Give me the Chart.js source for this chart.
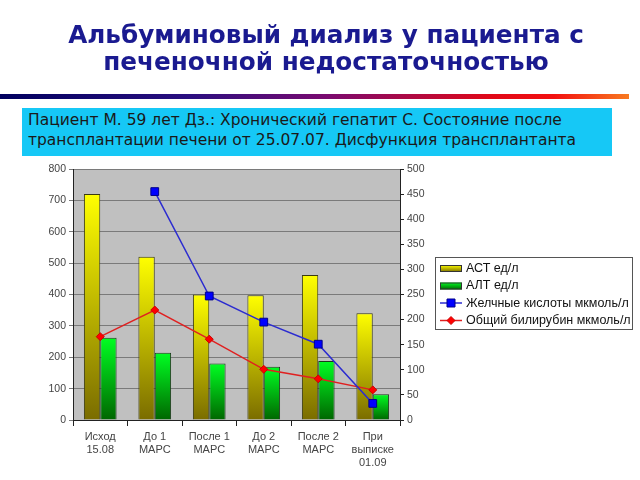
<!DOCTYPE html>
<html>
<head>
<meta charset="utf-8">
<script src="https://cdn.jsdelivr.net/npm/chart.js@4"></script>
<style>
  html, body { margin: 0; padding: 0; background: #fff; }
  #wrap { position: relative; width: 640px; height: 480px; overflow: hidden; }
  #myChart { position: absolute; left: 0; top: 0; }
  .title {
    position: absolute; left: 0; top: 21px; width: 652px; text-align: center;
    font: bold 24.7px "DejaVu Sans", sans-serif; color: #1a1a90; line-height: 27px;
  }
  .rule {
    position: absolute; left: 0; top: 94px; width: 629px; height: 5px;
    background: linear-gradient(to right, #00005e 0%, #2a0f80 30%, #7a0a70 52%, #e00818 78%, #f31010 88%, #f87a20 100%);
  }
  .box {
    position: absolute; left: 22px; top: 108px; width: 584px; height: 46px;
    background: #16c8f6; padding: 2px 0 0 6px; box-sizing: content-box;
    font: 15.5px "DejaVu Sans", sans-serif; color: #1a1a1a; line-height: 20px;
    white-space: nowrap;
  }
</style>
</head>
<body>
<div id="wrap">
  <canvas id="myChart" width="640" height="480"></canvas>
  <div class="title">Альбуминовый диализ у пациента с<br>печеночной недостаточностью</div>
  <div class="rule"></div>
  <div class="box">Пациент М. 59 лет Дз.: Хронический гепатит С. Состояние после<br>трансплантации печени от 25.07.07. Дисфункция трансплантанта</div>
</div>
<script>
'use-strict';

const categories = [['Исход', '15.08'], ['До 1', 'МАРС'], ['После 1', 'МАРС'], ['До 2', 'МАРС'], ['После 2', 'МАРС'], ['При', 'выписке', '01.09']];
const astValues = [720, 520, 400, 398, 462, 340];
const altValues = [262, 214, 180, 170, 188, 82];
const bileAcids = [null, 455, 247, 195, 151, 33];
const bilirubin = [166, 219, 161, 101, 82, 60];
const leftTicks = { min: 0, max: 800, step: 100 };
const rightTicks = { min: 0, max: 500, step: 50 };

const ctx = document.getElementById('myChart').getContext('2d');

// per-bar vertical gradient, like the Excel fill
function barFill(top, bottom) {
  return (c) => {
    const chart = c.chart;
    const y = chart.scales && chart.scales.y;
    if (!chart.chartArea || !y || c.raw == null) return top;
    const yTop = y.getPixelForValue(c.raw);
    const yBase = y.getPixelForValue(0);
    const g = chart.ctx.createLinearGradient(0, yTop, 0, yBase);
    g.addColorStop(0, top);
    g.addColorStop(1, bottom);
    return g;
  };
}

const plotBackground = {
  id: 'plotBackground',
  beforeDraw: (chart) => {
    const { ctx, chartArea: a } = chart;
    ctx.save();
    ctx.fillStyle = '#c0c0c0';
    ctx.fillRect(a.left, a.top, a.right - a.left, a.bottom - a.top);
    ctx.restore();
  }
};

// legend drawn by hand so it sits where the original one is
const sideLegend = {
  id: 'sideLegend',
  afterDraw: (chart) => {
    const { ctx } = chart;
    const x = 435, y = 257, w = 197, h = 72;
    ctx.save();
    ctx.fillStyle = '#fff';
    ctx.fillRect(x, y, w, h);
    ctx.strokeStyle = '#555';
    ctx.lineWidth = 1;
    ctx.strokeRect(x + 0.5, y + 0.5, w, h);
    ctx.font = '12.5px "Liberation Sans", Arial, sans-serif';
    ctx.textBaseline = 'middle';
    chart.data.datasets.forEach((ds, i) => {
      const cy = y + 11 + i * 17.5;
      if (ds.type === 'line') {
        ctx.strokeStyle = ds.borderColor;
        ctx.lineWidth = 1.5;
        ctx.beginPath();
        ctx.moveTo(x + 5, cy);
        ctx.lineTo(x + 27, cy);
        ctx.stroke();
        ctx.fillStyle = ds.pointBackgroundColor;
        ctx.strokeStyle = ds.pointBorderColor;
        ctx.lineWidth = 1;
        ctx.beginPath();
        if (ds.pointStyle === 'rect') {
          ctx.rect(x + 12, cy - 4, 8, 8);
        } else {
          ctx.moveTo(x + 16, cy - 4); ctx.lineTo(x + 20, cy); ctx.lineTo(x + 16, cy + 4); ctx.lineTo(x + 12, cy);
          ctx.closePath();
        }
        ctx.fill();
        ctx.stroke();
      } else {
        const g = ctx.createLinearGradient(0, cy - 3, 0, cy + 4);
        g.addColorStop(0, ds.legendTop);
        g.addColorStop(1, ds.legendBottom);
        ctx.fillStyle = g;
        ctx.fillRect(x + 5, cy - 3, 22, 7);
        ctx.strokeStyle = '#333';
        ctx.lineWidth = 1;
        ctx.strokeRect(x + 5.5, cy - 2.5, 21, 6);
      }
      ctx.fillStyle = '#111';
      ctx.fillText(ds.label, x + 31, cy + 0.5);
    });
    ctx.restore();
  }
};

const data = {
  labels: categories,
  datasets: [
    {
      type: 'bar', label: 'АСТ ед/л', data: astValues, yAxisID: 'y', order: 2,
      backgroundColor: barFill('#ffff00', '#7a6c00'), borderColor: '#3a3a10', borderWidth: 1,
      legendTop: '#ffff00', legendBottom: '#7a6c00',
      categoryPercentage: 0.6, barPercentage: 1.0
    },
    {
      type: 'bar', label: 'АЛТ ед/л', data: altValues, yAxisID: 'y', order: 2,
      backgroundColor: barFill('#00ff22', '#006600'), borderColor: '#1d3a1d', borderWidth: 1,
      legendTop: '#00ff22', legendBottom: '#006600',
      categoryPercentage: 0.6, barPercentage: 1.0
    },
    {
      type: 'line', label: 'Желчные кислоты мкмоль/л', data: bileAcids, yAxisID: 'y1', order: 1,
      borderColor: '#2c2cd0', borderWidth: 1.5, pointStyle: 'rect', pointRadius: 5.5,
      pointBackgroundColor: '#0000ff', pointBorderColor: '#00008a', pointBorderWidth: 1,
      tension: 0, fill: false
    },
    {
      type: 'line', label: 'Общий билирубин мкмоль/л', data: bilirubin, yAxisID: 'y1', order: 1,
      borderColor: '#e02020', borderWidth: 1.5, pointStyle: 'rectRot', pointRadius: 4,
      pointBackgroundColor: '#ff0000', pointBorderColor: '#cc0000', pointBorderWidth: 1,
      tension: 0, fill: false
    }
  ]
};

const tickFont = { family: '"Liberation Sans", Arial, sans-serif', size: 10.5 };

const config = {
  type: 'bar',
  data: data,
  options: {
    responsive: false,
    animation: false,
    layout: { padding: { left: 0, right: 210, top: 169, bottom: 0 } },
    plugins: {
      legend: { display: false },
      tooltip: { enabled: false }
    },
    scales: {
      x: {
        grid: { drawOnChartArea: false, color: '#222', tickLength: 6, offset: true },
        border: { color: '#222' },
        ticks: { color: '#444', font: { family: tickFont.family, size: 11 }, padding: 4, maxRotation: 0, autoSkip: false },
        afterFit: (s) => { s.height = 60; }
      },
      y: {
        position: 'left', min: leftTicks.min, max: leftTicks.max,
        grid: { color: '#7a7a7a', tickLength: 4 },
        border: { color: '#222' },
        ticks: { stepSize: leftTicks.step, color: '#444', font: tickFont, padding: 3 },
        afterFit: (s) => { s.width = 73; }
      },
      y1: {
        position: 'right', min: rightTicks.min, max: rightTicks.max,
        grid: { drawOnChartArea: false, color: '#222', tickLength: 4 },
        border: { color: '#222' },
        ticks: { stepSize: rightTicks.step, color: '#444', font: tickFont, padding: 3 },
        afterFit: (s) => { s.width = 30; }
      }
    }
  },
  plugins: [plotBackground, sideLegend]
};

const myChart = new Chart(ctx, config);
</script>
</body>
</html>
